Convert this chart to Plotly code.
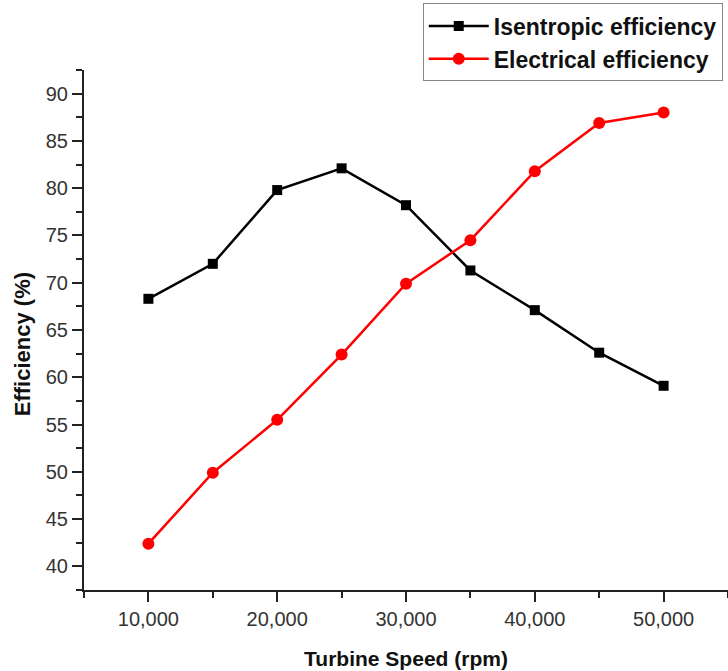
import plotly.graph_objects as go

# Turbine speed (rpm) and the two efficiency curves (%)
speed = [10000, 15000, 20000, 25000, 30000, 35000, 40000, 45000, 50000]
isentropic_eff = [68.3, 72.0, 79.8, 82.1, 78.2, 71.3, 67.1, 62.6, 59.1]
electrical_eff = [42.4, 49.9, 55.5, 62.4, 69.9, 74.5, 81.8, 86.9, 88.0]

FONT = "Liberation Sans, Arial, sans-serif"

fig = go.Figure()
fig.add_trace(go.Scatter(
    x=speed, y=isentropic_eff, name="<b>Isentropic efficiency</b>",
    mode="lines+markers",
    line=dict(color="black", width=2.5),
    marker=dict(symbol="square", size=10, color="black"),
))
fig.add_trace(go.Scatter(
    x=speed, y=electrical_eff, name="<b>Electrical efficiency</b>",
    mode="lines+markers",
    line=dict(color="#ff0000", width=2.5),
    marker=dict(symbol="circle", size=12, color="#ff0000"),
))

axis_common = dict(
    showline=True, linewidth=2, linecolor="#222222",
    ticks="outside", ticklen=10, tickwidth=2, tickcolor="#222222",
    showgrid=False, zeroline=False, mirror=False,
    tickfont=dict(family=FONT, size=20, color="#333333"),
)

fig.update_xaxes(
    range=[5000, 55000], tick0=0, dtick=10000, tickformat=",d",
    minor=dict(ticks="outside", ticklen=6, tickwidth=2, tickcolor="#222222", dtick=5000, tick0=0),
    title=dict(text="<b>Turbine Speed (rpm)</b>", standoff=22,
               font=dict(family=FONT, size=21, color="#111111")),
    **axis_common,
)
fig.update_yaxes(
    range=[37.5, 92.5], tick0=0, dtick=5,
    minor=dict(ticks="outside", ticklen=6, tickwidth=2, tickcolor="#222222", dtick=2.5, tick0=0),
    **axis_common,
)

# y-axis title placed as a rotated annotation
fig.add_annotation(
    text="<b>Efficiency (%)</b>", textangle=-90,
    xref="paper", yref="paper", x=-0.096, y=0.473,
    xanchor="center", yanchor="middle", showarrow=False,
    font=dict(family=FONT, size=22, color="#111111"),
)

fig.update_layout(
    width=728, height=671,
    margin=dict(l=84, r=0, t=70, b=81, autoexpand=False),
    paper_bgcolor="white", plot_bgcolor="white",
    showlegend=True,
    legend=dict(
        x=0.526, y=1.128, xanchor="left", yanchor="top",
        bgcolor="white", bordercolor="#888888", borderwidth=1,
        font=dict(family=FONT, size=23, color="#111111"),
        itemwidth=60, tracegroupgap=0,
        traceorder="normal",
    ),
)

fig.write_html("out.html")
